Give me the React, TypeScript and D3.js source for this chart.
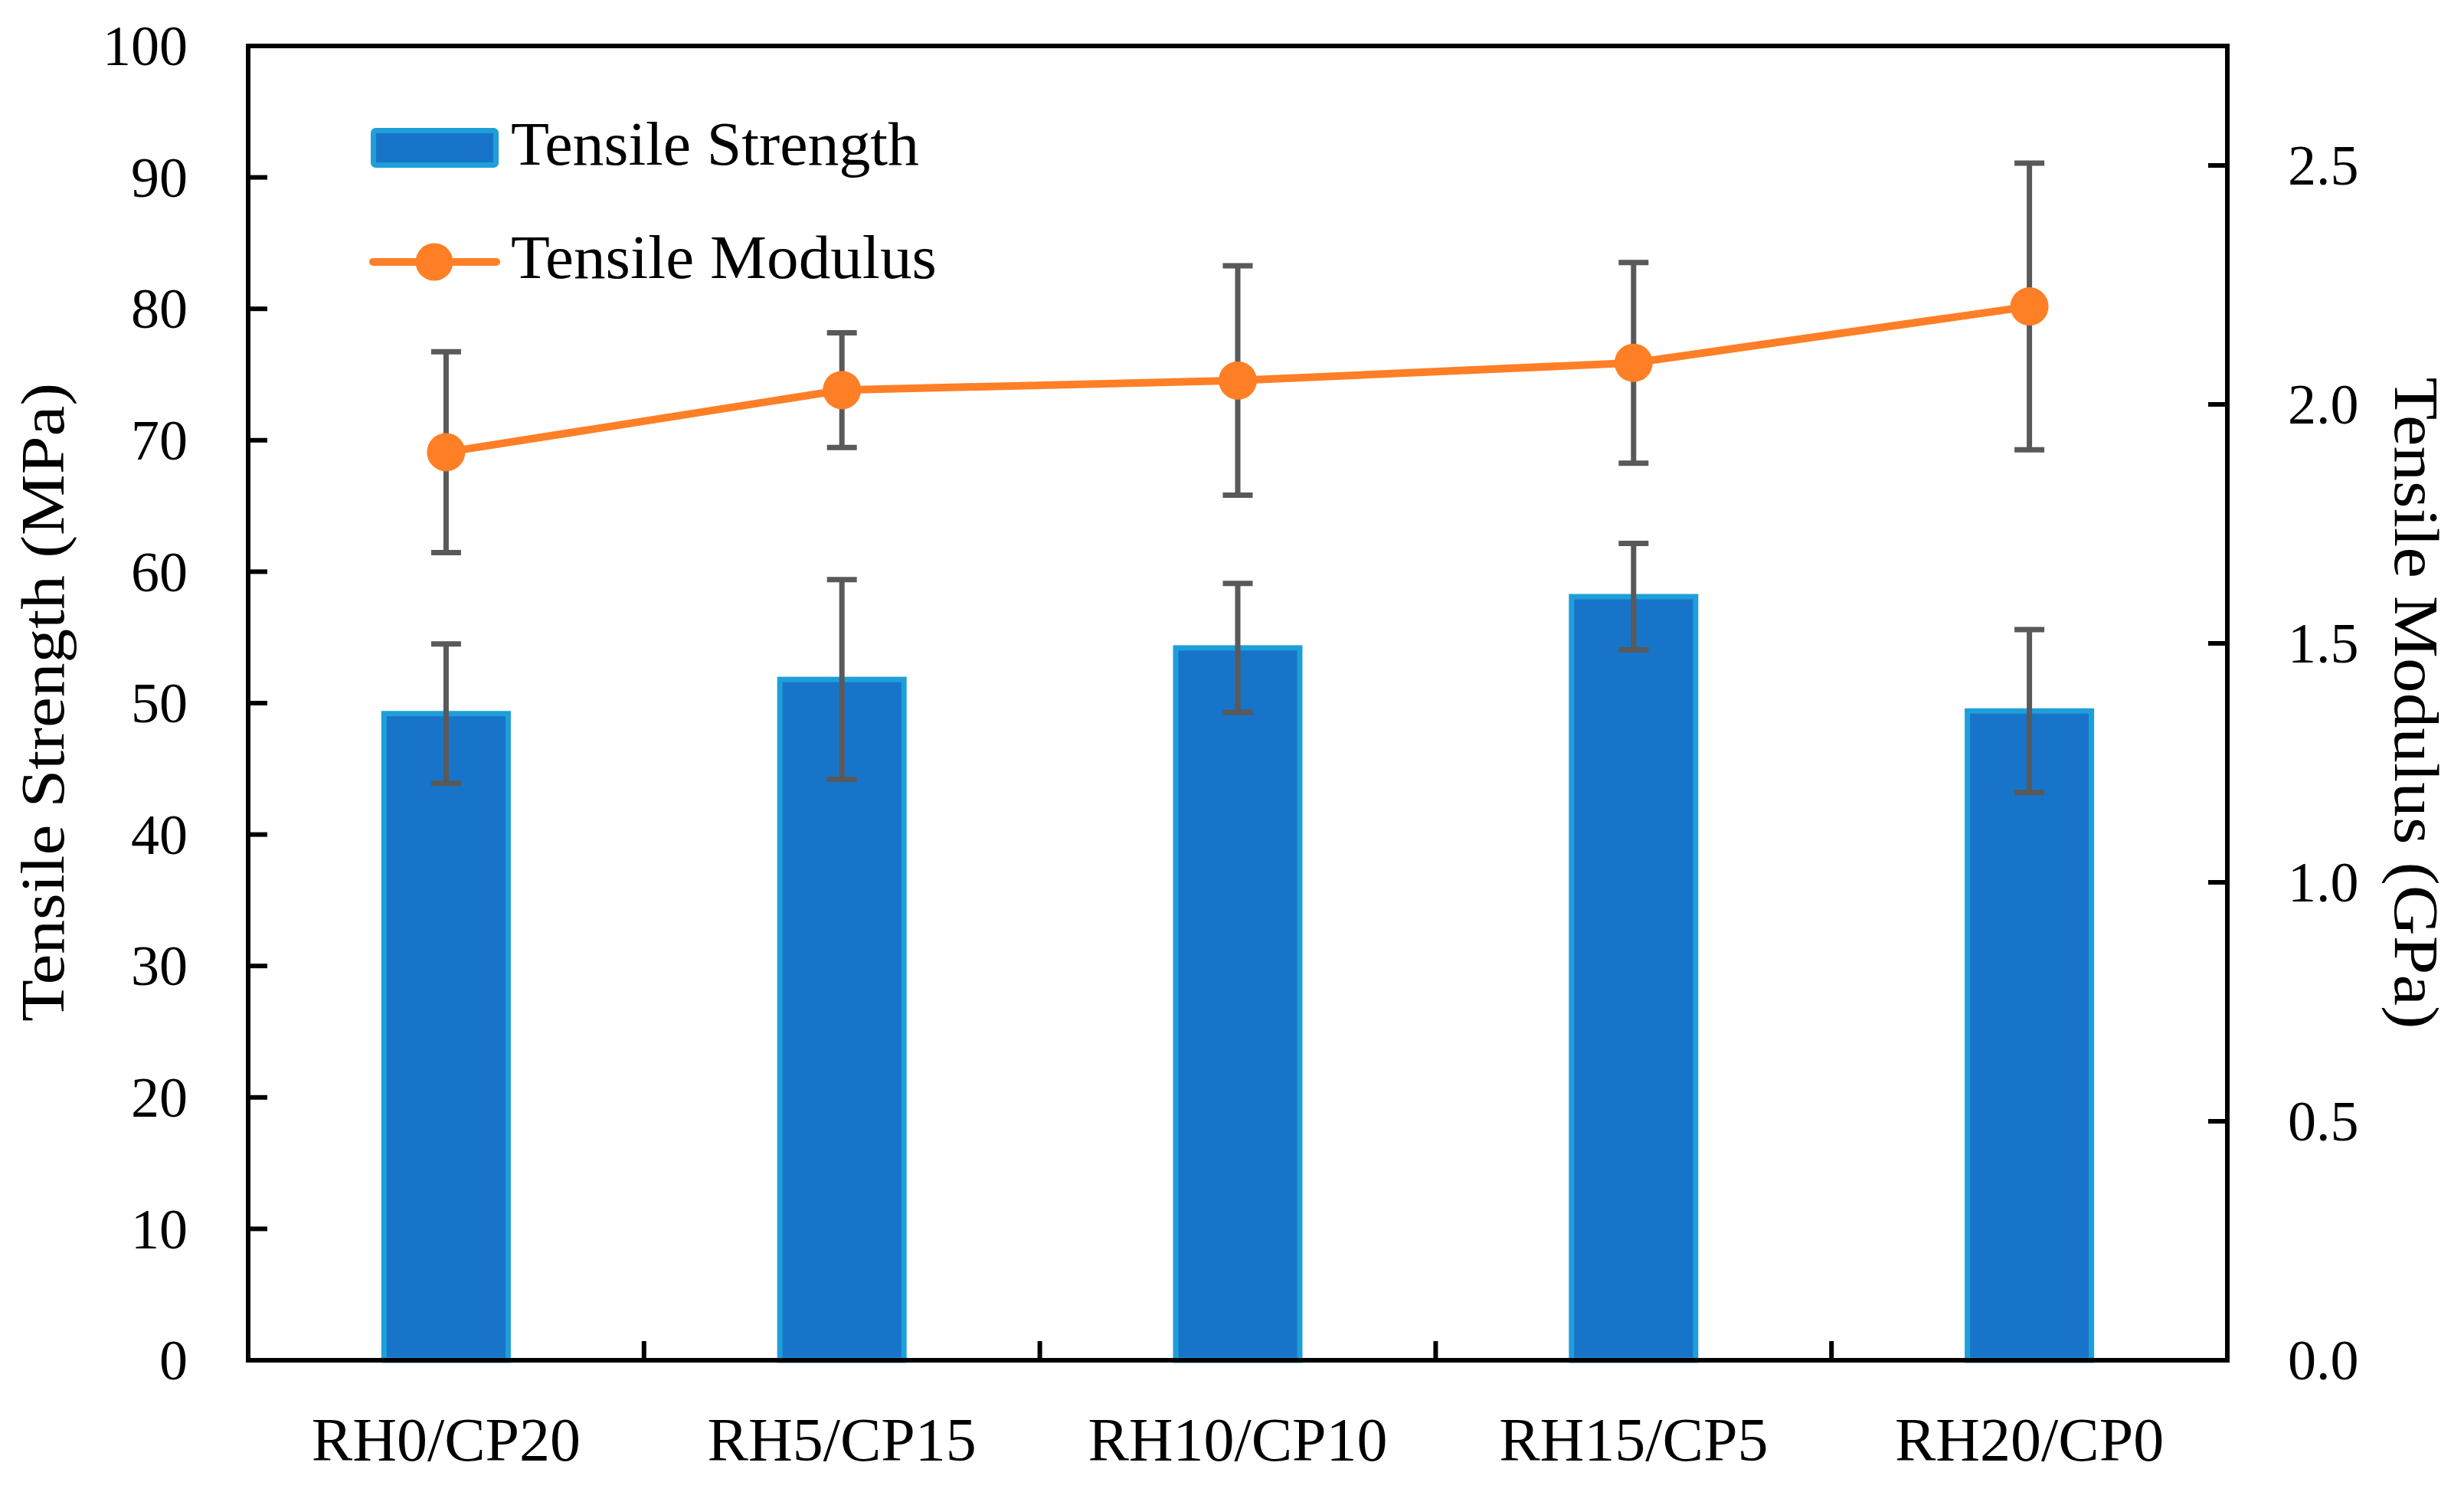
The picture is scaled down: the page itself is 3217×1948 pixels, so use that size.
import React from "react";
import * as d3 from "d3";

const categories = ["RH0/CP20", "RH5/CP15", "RH10/CP10", "RH15/CP5", "RH20/CP0"];
const strength = [49.2, 51.8, 54.2, 58.1, 49.4];
const strengthErr = [5.3, 7.6, 4.9, 4.05, 6.2];
const modulus = [1.9, 2.03, 2.05, 2.087, 2.205];
const modulusErr = [0.21, 0.12, 0.24, 0.21, 0.3];
const leftTicks = [0, 10, 20, 30, 40, 50, 60, 70, 80, 90, 100];
const rightTicks = [0, 0.5, 1.0, 1.5, 2.0, 2.5];
const leftTitle = "Tensile Strength (MPa)";
const rightTitle = "Tensile Modulus (GPa)";
const legendLabels = ["Tensile Strength", "Tensile Modulus"];

const W = 3217;
const H = 1948;
const L = 324, R = 2908, T = 60, B = 1776;
const FONT = "'Liberation Serif', 'Times New Roman', serif";
const BAR_FILL = "#1874c8";
const BAR_STROKE = "#1e9fda";
const ORANGE = "#ff7f27";
const ERR = "#595959";

export default function App() {
  const x = d3.scaleBand<string>().domain(categories).range([L, R]).padding(0);
  const yL = d3.scaleLinear().domain([0, 100]).range([B, T]);
  const yR = d3.scaleLinear().domain([0, 2.75]).range([B, T]);
  const bw = x.bandwidth() * 0.3135;
  const cx = (c: string) => (x(c) as number) + x.bandwidth() / 2;
  const capW = 39;
  const tickLen = 25;

  const line = d3
    .line<number>()
    .x((_, i) => cx(categories[i]))
    .y((d) => yR(d));

  return (
    <svg
      width={W}
      height={H}
      style={{ position: "absolute", left: 0, top: 0, background: "#fff" }}
      fontFamily={FONT}
    >
      <rect x={0} y={0} width={W} height={H} fill="#fff" />
      {/* bars */}
      {categories.map((c, i) => (
        <rect
          key={"bar" + i}
          x={cx(c) - bw / 2}
          y={yL(strength[i])}
          width={bw}
          height={B - yL(strength[i])}
          fill={BAR_FILL}
          stroke={BAR_STROKE}
          strokeWidth={7}
        />
      ))}
      {/* bar error bars */}
      {categories.map((c, i) => {
        const hi = yL(strength[i] + strengthErr[i]);
        const lo = yL(strength[i] - strengthErr[i]);
        const xc = cx(c);
        return (
          <g key={"se" + i} stroke={ERR} strokeWidth={7}>
            <line x1={xc} x2={xc} y1={hi} y2={lo} />
            <line x1={xc - capW / 2} x2={xc + capW / 2} y1={hi} y2={hi} />
            <line x1={xc - capW / 2} x2={xc + capW / 2} y1={lo} y2={lo} />
          </g>
        );
      })}
      {/* modulus error bars */}
      {categories.map((c, i) => {
        const hi = yR(modulus[i] + modulusErr[i]);
        const lo = yR(modulus[i] - modulusErr[i]);
        const xc = cx(c);
        return (
          <g key={"me" + i} stroke={ERR} strokeWidth={7}>
            <line x1={xc} x2={xc} y1={hi} y2={lo} />
            <line x1={xc - capW / 2} x2={xc + capW / 2} y1={hi} y2={hi} />
            <line x1={xc - capW / 2} x2={xc + capW / 2} y1={lo} y2={lo} />
          </g>
        );
      })}
      {/* modulus line */}
      <path d={line(modulus) || ""} fill="none" stroke={ORANGE} strokeWidth={10} strokeLinejoin="round" />
      {categories.map((c, i) => (
        <circle key={"pt" + i} cx={cx(c)} cy={yR(modulus[i])} r={25} fill={ORANGE} />
      ))}

      {/* frame */}
      <rect x={L} y={T} width={R - L} height={B - T} fill="none" stroke="#000" strokeWidth={6} />
      {/* left ticks */}
      {leftTicks.map((t) => (
        <g key={"lt" + t}>
          {t > 0 && t < 100 && (
            <line x1={L} x2={L + tickLen} y1={yL(t)} y2={yL(t)} stroke="#000" strokeWidth={6} />
          )}
          <text x={245} y={yL(t)} dy="0.34em" textAnchor="end" fontSize={74}>
            {t}
          </text>
        </g>
      ))}
      {/* right ticks */}
      {rightTicks.map((t) => (
        <g key={"rt" + t}>
          {t > 0 && (
            <line x1={R - tickLen} x2={R} y1={yR(t)} y2={yR(t)} stroke="#000" strokeWidth={6} />
          )}
          <text x={2987} y={yR(t)} dy="0.34em" textAnchor="start" fontSize={74}>
            {d3.format(".1f")(t)}
          </text>
        </g>
      ))}
      {/* bottom ticks at category boundaries */}
      {categories.slice(1).map((c) => (
        <line key={"bt" + c} x1={x(c)} x2={x(c)} y1={B} y2={B - tickLen} stroke="#000" strokeWidth={6} />
      ))}
      {categories.map((c) => (
        <text key={"xl" + c} x={cx(c)} y={1907} textAnchor="middle" fontSize={80}>
          {c}
        </text>
      ))}
      {/* axis titles */}
      <text
        transform={`translate(83, 917) rotate(-90)`}
        textAnchor="middle"
        fontSize={80}
        textLength={834}
        lengthAdjust="spacingAndGlyphs"
      >
        {leftTitle}
      </text>
      <text
        transform={`translate(3127, 918) rotate(90)`}
        textAnchor="middle"
        fontSize={82}
        textLength={851}
        lengthAdjust="spacingAndGlyphs"
      >
        {rightTitle}
      </text>
      {/* legend */}
      <rect x={487.5} y={170.5} width={160} height={45} rx={3} fill={BAR_FILL} stroke={BAR_STROKE} strokeWidth={7} />
      <text x={667} y={215} fontSize={80} textLength={533} lengthAdjust="spacingAndGlyphs">
        {legendLabels[0]}
      </text>
      <line x1={487} x2={648} y1={342} y2={342} stroke={ORANGE} strokeWidth={10} strokeLinecap="round" />
      <circle cx={567} cy={342} r={24.5} fill={ORANGE} />
      <text x={667} y={363} fontSize={80} textLength={556} lengthAdjust="spacingAndGlyphs">
        {legendLabels[1]}
      </text>
    </svg>
  );
}
